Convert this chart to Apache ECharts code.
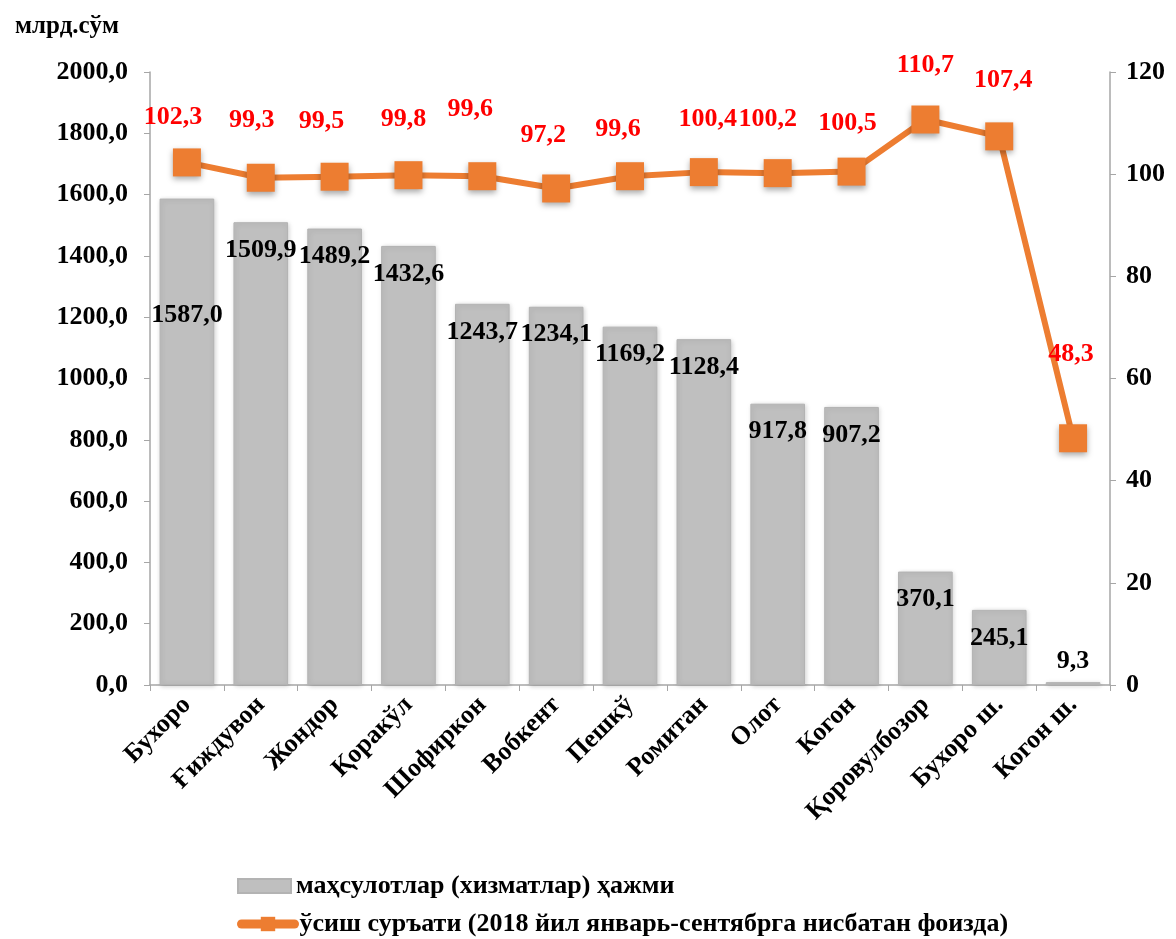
<!DOCTYPE html>
<html><head><meta charset="utf-8">
<script src="https://cdn.jsdelivr.net/npm/echarts@6/dist/echarts.min.js"></script>
<style>html,body{margin:0;padding:0;background:#fff}#c{width:1176px;height:939px}</style>
</head><body><div id="c"></div>
<script>
const categories = ['Бухоро','Ғиждувон','Жондор','Қоракўл','Шофиркон','Вобкент','Пешкў','Ромитан','Олот','Когон','Қоровулбозор','Бухоро ш.','Когон ш.'];
const volume = [1587.0,1509.9,1489.2,1432.6,1243.7,1234.1,1169.2,1128.4,917.8,907.2,370.1,245.1,9.3];
const growth = [102.3,99.3,99.5,99.8,99.6,97.2,99.6,100.4,100.2,100.5,110.7,107.4,48.3];
const seriesNames = ['маҳсулотлар (хизматлар) ҳажми','ўсиш суръати (2018 йил январь-сентябрга нисбатан фоизда)'];
const unitLabel = 'млрд.сўм';

const F = '"Liberation Serif","Times New Roman",serif';
const FS = 26;
const fmt = v => v.toFixed(1).replace('.', ',');
const chart = echarts.init(document.getElementById('c'));

// label placement tweaks (style only, as in the reference)
const barLabelDist = { 0: 104 };
const lineLabelDist = [18, 30, 28, 29, 40, 26, 20, 26, 27, 21, 27, 29, 57];
const lineLabelDx = [-14, -9, -13, -5, -12, -13, -12, 4, -10, -4, 0, 4, -2];

const barData = volume.map((v, i) => {
  const item = { value: v };
  if (barLabelDist[i] !== undefined) item.label = { position: 'insideTop', distance: barLabelDist[i] };
  if (v < 100) item.label = { position: 'top', distance: 8 };
  return item;
});
const lineData = growth.map((v, i) => ({
  value: v,
  label: { distance: lineLabelDist[i], offset: [lineLabelDx[i], 0] }
}));

const legendBase = {
  orient: 'vertical', left: 237, padding: 0, itemWidth: 53, itemHeight: 14,
  textStyle: { fontFamily: F, fontSize: FS, fontWeight: 'bold', color: '#000' }
};

chart.setOption({
  animation: false,
  textStyle: { fontFamily: F },
  title: { text: unitLabel, left: 10, top: 9, textStyle: { fontFamily: F, fontSize: 25, fontWeight: 'bold', color: '#000' } },
  grid: { left: 150, right: 66, top: 72, bottom: 254, containLabel: false },
  legend: [
    Object.assign({}, legendBase, { top: 873, data: [{ name: seriesNames[0], icon: 'rect' }] }),
    Object.assign({}, legendBase, { top: 911, itemHeight: 18, data: [{ name: seriesNames[1], lineStyle: { width: 9, color: '#ed7d31', cap: 'round' } }] })
  ],
  xAxis: {
    type: 'category', data: categories,
    axisLine: { lineStyle: { color: '#a6a6a6', width: 1.5 } },
    axisTick: { show: true, interval: 0, length: 6, lineStyle: { color: '#a6a6a6' } },
    axisLabel: { interval: 0, rotate: 45, fontFamily: F, fontSize: FS, fontWeight: 'bold', color: '#000', margin: 16 }
  },
  yAxis: [
    { type: 'value', min: 0, max: 2000, interval: 200,
      axisLine: { show: true, lineStyle: { color: '#a6a6a6', width: 1.5 } },
      axisTick: { show: true, length: 6, lineStyle: { color: '#a6a6a6' } },
      splitLine: { show: false },
      axisLabel: { fontFamily: F, fontSize: FS, fontWeight: 'bold', color: '#000', margin: 22, formatter: v => fmt(v) } },
    { type: 'value', min: 0, max: 120, interval: 20, position: 'right',
      axisLine: { show: true, lineStyle: { color: '#a6a6a6', width: 1.5 } },
      axisTick: { show: true, length: 6, lineStyle: { color: '#a6a6a6' } },
      splitLine: { show: false },
      axisLabel: { fontFamily: F, fontSize: FS, fontWeight: 'bold', color: '#000', margin: 16 } }
  ],
  series: [
    { name: seriesNames[0], type: 'bar', yAxisIndex: 0, data: barData, barCategoryGap: '26%',
      itemStyle: { color: '#bfbfbf', borderColor: '#b3b3b3', borderWidth: 1, shadowBlur: 5, shadowColor: 'rgba(0,0,0,0.18)', shadowOffsetX: 1, shadowOffsetY: 1 },
      label: { show: true, position: 'insideTop', distance: 15, fontFamily: F, fontSize: FS, fontWeight: 'bold', color: '#000', formatter: p => fmt(p.value) } },
    { name: seriesNames[1], type: 'line', yAxisIndex: 1, data: lineData,
      symbol: 'rect', symbolSize: 28,
      lineStyle: { color: '#ed7d31', width: 6 },
      itemStyle: { color: '#ed7d31', shadowBlur: 6, shadowColor: 'rgba(0,0,0,0.35)', shadowOffsetY: 3 },
      label: { show: true, position: 'top', fontFamily: F, fontSize: FS, fontWeight: 'bold', color: '#ff0000', formatter: p => fmt(p.value) } }
  ]
});
</script></body></html>
